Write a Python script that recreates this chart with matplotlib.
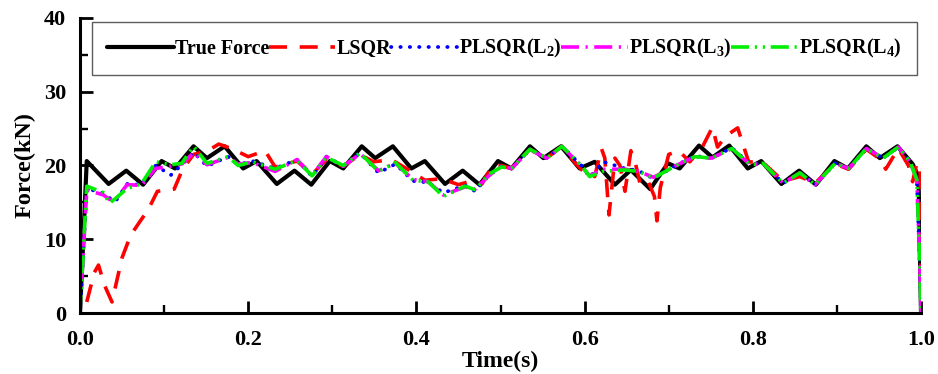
import numpy as np
import matplotlib
matplotlib.use("Agg")
from matplotlib import pyplot as plt
from matplotlib.ticker import MultipleLocator, FormatStrFormatter

plt.rcParams['font.family'] = ['Liberation Serif', 'DejaVu Serif']
plt.rcParams['font.weight'] = 'bold'
plt.rcParams['mathtext.fontset'] = 'custom'
plt.rcParams['mathtext.rm'] = 'Liberation Serif:bold'
plt.rcParams['mathtext.default'] = 'rm'

# true force (peaks and dips)
t_true = [0.000, 0.008, 0.034, 0.055, 0.075, 0.097, 0.113, 0.135, 0.151, 0.172,
          0.194, 0.210, 0.234, 0.255, 0.275, 0.297, 0.313, 0.335, 0.351, 0.372,
          0.394, 0.410, 0.434, 0.455, 0.475, 0.497, 0.513, 0.535, 0.551, 0.572,
          0.594, 0.612, 0.636, 0.655, 0.678, 0.699, 0.713, 0.736, 0.752, 0.772,
          0.794, 0.810, 0.834, 0.855, 0.875, 0.897, 0.913, 0.935, 0.951, 0.972,
          0.990, 0.997, 1.000]
f_true = [0.0, 20.6, 17.5, 19.3, 17.4, 20.6, 19.6, 22.6, 21.0, 22.6,
          19.6, 20.6, 17.5, 19.3, 17.4, 20.6, 19.6, 22.6, 21.0, 22.6,
          19.6, 20.6, 17.5, 19.3, 17.4, 20.6, 19.6, 22.6, 21.0, 22.6,
          19.6, 20.5, 17.4, 19.4, 16.8, 20.3, 19.6, 22.7, 21.1, 22.7,
          19.6, 20.6, 17.5, 19.3, 17.4, 20.6, 19.6, 22.6, 21.0, 22.6,
          20.2, 18.5, 0.0]

# LSQR estimate
t_lsqr = [0.008, 0.017, 0.022, 0.029, 0.038, 0.050, 0.060, 0.070, 0.081, 0.092,
          0.112, 0.122, 0.135, 0.152, 0.165, 0.180, 0.200, 0.220, 0.232, 0.258,
          0.276, 0.293, 0.313, 0.333, 0.349, 0.370, 0.394, 0.410, 0.430, 0.450,
          0.465, 0.478, 0.490, 0.501, 0.513, 0.535, 0.555, 0.573, 0.589, 0.600,
          0.612, 0.620, 0.624, 0.629, 0.636, 0.642, 0.648, 0.655, 0.660, 0.666,
          0.675, 0.683, 0.686, 0.690, 0.700, 0.712, 0.725, 0.740, 0.752, 0.758,
          0.768, 0.782, 0.795, 0.812, 0.836, 0.856, 0.874, 0.898, 0.914, 0.935,
          0.952, 0.958, 0.973, 0.985, 0.990, 0.995, 0.999, 1.000]
f_lsqr = [1.5, 5.5, 6.5, 3.8, 1.5, 7.5, 10.5, 12.2, 14.0, 16.5,
          16.8, 19.5, 21.5, 22.0, 22.9, 22.3, 21.2, 22.0, 19.8, 20.6,
          18.8, 20.8, 19.9, 21.5, 20.5, 20.8, 19.2, 18.0, 18.2, 17.4,
          17.9, 17.5, 20.0, 20.0, 19.6, 22.2, 21.0, 22.6, 20.3, 19.0,
          18.5, 22.3, 21.0, 13.3, 21.0, 20.0, 16.5, 22.0, 20.5, 17.5,
          18.0, 15.8, 12.5, 17.0, 21.5, 22.0, 20.5, 22.5, 25.2, 22.5,
          24.0, 25.1, 20.5, 20.4, 17.9, 18.5, 17.6, 20.2, 19.5, 22.2,
          20.8, 19.5, 22.3, 20.0, 17.8, 20.3, 20.0, 0.0]

# PLSQR estimates with the three regularisation matrices
t_est = [0.000, 0.008, 0.028, 0.035, 0.042, 0.056, 0.073, 0.090, 0.108, 0.121,
         0.135, 0.151, 0.176, 0.188, 0.205, 0.232, 0.258, 0.276, 0.293, 0.313,
         0.333, 0.355, 0.375, 0.396, 0.414, 0.432, 0.458, 0.470, 0.486, 0.501,
         0.513, 0.535, 0.555, 0.573, 0.597, 0.606, 0.622, 0.648, 0.664, 0.682,
         0.707, 0.731, 0.751, 0.775, 0.797, 0.812, 0.836, 0.856, 0.874, 0.898,
         0.914, 0.935, 0.955, 0.973, 0.987, 0.995, 0.999, 1.000]
f_l2 = [0.0, 16.9, 16.2, 15.6, 15.1, 17.5, 17.4, 20.0, 18.7, 20.1,
        21.8, 19.9, 21.2, 20.1, 20.6, 19.6, 20.8, 18.5, 21.2, 19.9,
        21.7, 19.0, 20.2, 17.9, 17.7, 16.3, 17.3, 16.5, 18.7, 19.9,
        19.6, 22.2, 21.0, 22.6, 19.9, 18.4, 20.5, 19.6, 19.3, 18.2,
        19.9, 21.3, 21.0, 22.4, 20.2, 20.3, 17.6, 19.0, 17.4, 20.3,
        19.6, 22.3, 21.0, 22.5, 20.5, 18.1, 5.0, 0.0]
f_l3 = [0.0, 16.7, 16.0, 15.4, 15.3, 17.4, 17.3, 19.6, 19.9, 20.2,
        21.7, 20.1, 21.1, 20.2, 20.4, 19.2, 20.8, 18.7, 21.2, 19.9,
        21.6, 19.3, 20.3, 18.1, 17.8, 16.0, 17.1, 16.8, 18.6, 19.9,
        19.6, 22.1, 21.0, 22.6, 19.8, 18.6, 19.5, 19.5, 19.2, 18.4,
        19.9, 21.2, 21.0, 22.3, 20.1, 20.3, 17.6, 19.0, 17.4, 20.3,
        19.6, 22.3, 21.0, 22.5, 20.5, 18.1, 5.0, 0.0]
f_l4 = [0.0, 17.2, 16.3, 14.9, 15.5, 16.9, 17.5, 20.5, 20.1, 20.3,
        22.6, 20.3, 21.2, 20.0, 20.5, 19.5, 20.7, 18.6, 21.1, 20.0,
        21.7, 19.2, 20.4, 18.0, 17.8, 15.8, 17.2, 16.7, 18.8, 19.8,
        19.6, 22.2, 21.0, 22.6, 19.9, 18.5, 19.2, 19.4, 19.2, 18.3,
        19.9, 21.2, 21.0, 22.3, 20.1, 20.3, 17.6, 19.0, 17.4, 20.3,
        19.6, 22.3, 21.0, 22.5, 20.5, 18.1, 5.0, 0.0]

labels = ['True Force', 'LSQR', 'PLSQR(L$_2$)', 'PLSQR(L$_3$)', 'PLSQR(L$_4$)']

fig = plt.figure(figsize=(9.38, 3.74), dpi=100)
ax = fig.add_axes([0.0853, 0.163, 0.8966, 0.789])

ax.plot(t_true, f_true, color='black', lw=3.0, label=labels[0],
        solid_joinstyle='round', solid_capstyle='round')
ax.plot(t_lsqr, f_lsqr, color='#ff0000', lw=2.6, ls=(0, (5, 3.5)), label=labels[1])
ax.plot(t_est, f_l2, color='#0000ff', lw=2.7, ls=(0, (0.1, 2.4)),
        dash_capstyle='round', label=labels[2])
ax.plot(t_est, f_l3, color='#ff00ff', lw=2.6, ls=(0, (5, 1.8, 0.6, 1.8)), label=labels[3])
ax.plot(t_est, f_l4, color='#00ee00', lw=2.6, ls=(0, (5, 1.6, 0.6, 1.6, 0.6, 1.6)),
        label=labels[4])

ax.set_xlim(0, 1.0)
ax.set_ylim(0, 40)
ax.xaxis.set_major_locator(MultipleLocator(0.2))
ax.xaxis.set_minor_locator(MultipleLocator(0.1))
ax.yaxis.set_major_locator(MultipleLocator(10))
ax.yaxis.set_minor_locator(MultipleLocator(5))
ax.xaxis.set_major_formatter(FormatStrFormatter('%.1f'))

for s in ['top', 'right']:
    ax.spines[s].set_visible(False)
for s in ['left', 'bottom']:
    ax.spines[s].set_linewidth(2.2)

ax.tick_params(which='major', direction='in', length=9, width=2.0, labelsize=16)
ax.tick_params(axis='x', which='major', pad=12)
ax.tick_params(axis='y', which='major', pad=10)
ax.tick_params(which='minor', direction='in', length=6, width=1.7)
for lab in ax.get_xticklabels() + ax.get_yticklabels():
    lab.set_fontweight('bold')

ax.set_xlabel('Time(s)', fontsize=17, fontweight='bold', labelpad=1)
ax.set_ylabel('Force(kN)', fontsize=17.5, fontweight='bold', labelpad=6)

leg = ax.legend(loc='upper left', bbox_to_anchor=(0.0143, 0.986), ncol=5,
                prop={'size': 14.5, 'weight': 'bold'}, frameon=True, fancybox=False,
                borderaxespad=0, handlelength=3.3, handletextpad=0.05,
                columnspacing=0.0, borderpad=0.75)
leg.get_frame().set_edgecolor('#333333')
leg.get_frame().set_linewidth(1.0)

fig.savefig('out.png', dpi=100)
